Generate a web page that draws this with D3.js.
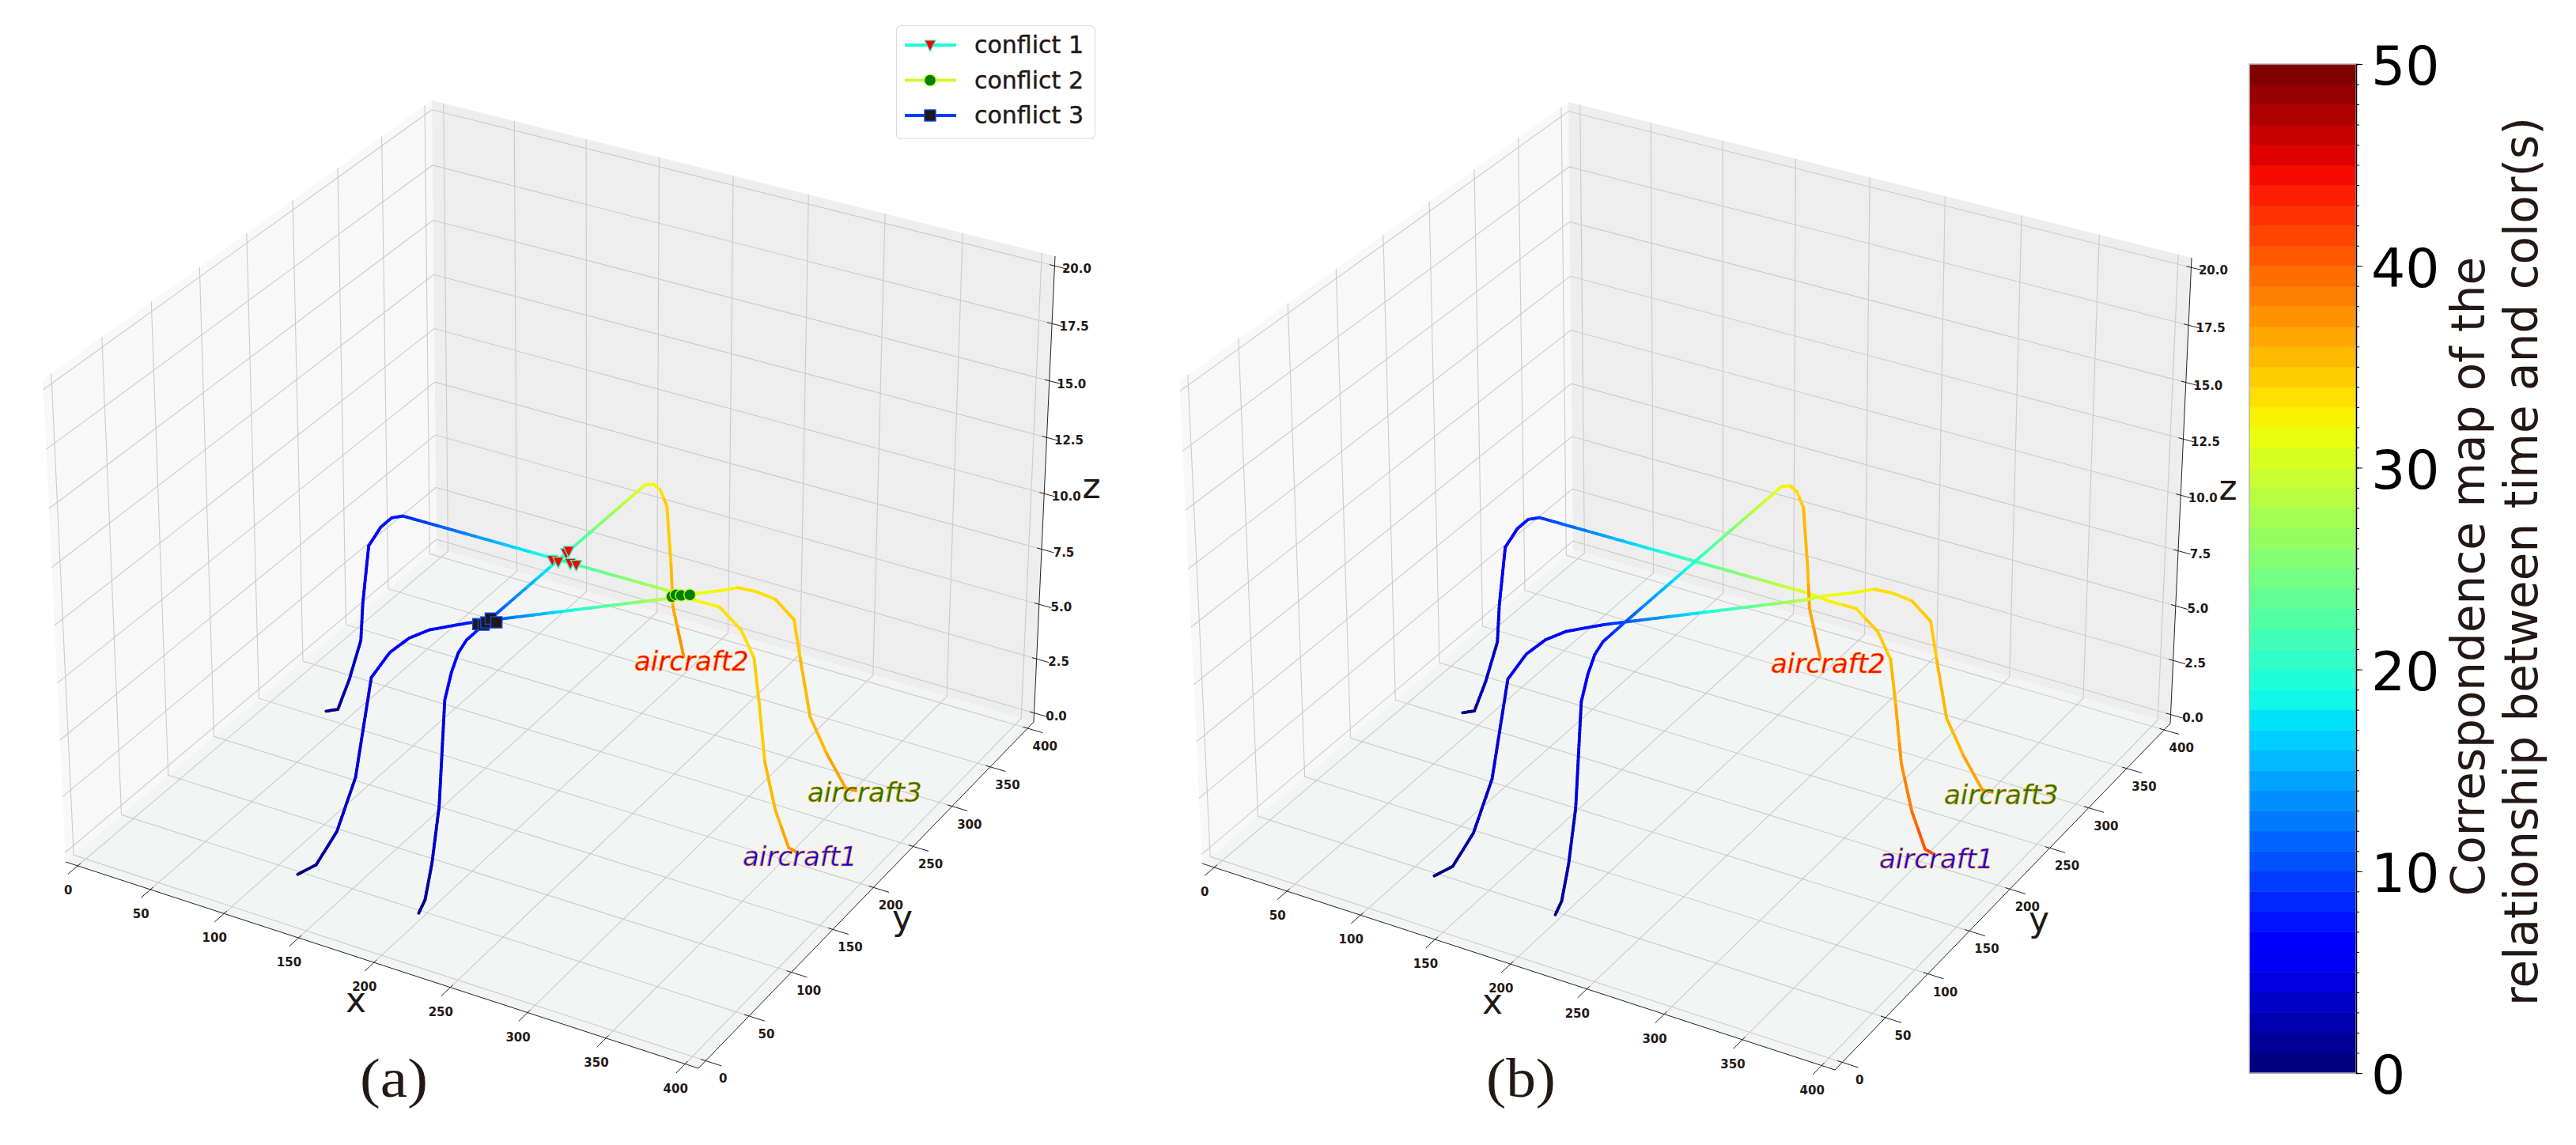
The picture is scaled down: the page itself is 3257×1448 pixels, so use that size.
<!DOCTYPE html>
<html>
<head>
<meta charset="utf-8">
<script src="https://cdn.jsdelivr.net/npm/d3@7/dist/d3.min.js"></script>
<style>
    body { margin: 0; background: #fff; }
    text { font-family: "DejaVu Sans", sans-serif; }
</style>
</head>
<body>
<script>
// aircraft tracks, x / y / z at each knot
const track1X = [40, 49, 53, 58, 58, 56, 59, 63, 69, 250, 265, 280, 294, 301, 307, 317, 334, 352, 358];
const track1Y = [199, 198, 205, 211, 214, 225, 234, 240, 243, 245, 243, 248, 249, 252, 248, 237, 219, 202, 202];
const track1Z = [0, 0.3, 1.5, 3.2, 4.8, 7, 7.6, 7.9, 8, 8, 8, 7.8, 7, 5.8, 4, 2, 0.8, 0.1, 0];

const track2X = [201, 203, 205, 203, 170, 168, 168, 170, 175, 175, 179, 182, 186, 194, 195, 195];
const track2Y = [39, 43, 48, 60, 122, 133, 141, 147, 161, 348, 351, 354, 355, 346, 347, 361];
const track2Z = [0, 0.5, 2, 4, 5.8, 6.6, 7.2, 7.6, 8, 8, 8, 7.7, 7, 4.8, 2.8, 0];

const track3X = [120, 129, 136, 133, 115, 123, 135, 147, 166, 252, 260, 273, 281, 290, 299, 310, 315, 328, 340, 353, 356];
const track3Y = [39, 45, 57, 83, 131, 139, 141, 144, 155, 237, 247, 259, 268, 274, 281, 284, 283, 272, 271, 271, 278];
const track3Z = [0, 0.4, 1.6, 3, 5.4, 6.4, 7.2, 7.7, 8, 8, 8, 8, 8, 7.8, 7.4, 6.6, 5, 3, 1.6, 0.3, 0];

// time (s) at each knot, panel (a) then panel (b)
const track1TimeA = [0, 1, 3, 4, 5, 6, 7, 7.5, 8, 29, 31.5, 33, 33.5, 34, 34.5, 35, 35.5, 36.5, 37.5];
const track2TimeA = [0, 1, 3, 4, 5, 6, 6.5, 7, 9, 31.5, 32, 33, 34.5, 35, 36, 38];
const track3TimeA = [0, 1, 3, 4, 5, 5.5, 6, 6.5, 7.5, 29, 31, 32, 33, 33.5, 34, 34.5, 35, 35.5, 36, 37, 37.5];

const track1TimeB = [0, 1, 3, 4, 5, 6, 7, 8, 9, 31, 32.5, 33.5, 34.5, 35, 36, 37.5, 39, 41, 42];
const track2TimeB = [0, 1, 3, 4, 5, 6, 7, 7.5, 10, 32, 33, 33.5, 35, 35.5, 36.5, 37.5];
const track3TimeB = [0, 1, 3, 4, 5, 5.5, 6, 6.5, 8, 29, 31, 32, 33, 33.5, 34, 34.5, 35, 35.5, 36, 37, 37.5];

// conflict markers, panel (a) only
const conflict1X = [172, 176, 175, 175, 183, 187];
const conflict1Y = [242, 242, 253, 256, 244, 244];
const conflict2X = [253, 254, 257, 261];
const conflict2Y = [240, 243, 244, 247];
const conflict3X = [172, 175, 175, 175, 180];
const conflict3Y = [157, 158, 161, 166, 164];
const conflictZ = 8;

const conflictNames = ["conflict 1", "conflict 2", "conflict 3"];
const aircraftNames = ["aircraft1", "aircraft2", "aircraft3"];

const xTicks = [0, 50, 100, 150, 200, 250, 300, 350, 400];
const yTicks = [0, 50, 100, 150, 200, 250, 300, 350, 400];
const zTicks = [0, 2.5, 5, 7.5, 10, 12.5, 15, 17.5, 20];
const colorTicks = [0, 10, 20, 30, 40, 50];

const width = 3257;
const height = 1448;
const textColor = "#231815";

const svg = d3.select("body").append("svg")
    .attr("width", width)
    .attr("height", height)
    .style("display", "block");

// matplotlib style limits: 1/48 margin on each side
const xNorm = d3.scaleLinear().domain([-8.33, 408.33]).range([0, 1]);
const yNorm = d3.scaleLinear().domain([-8.33, 408.33]).range([0, 1]);
const zNorm = d3.scaleLinear().domain([-0.417, 20.417]).range([0, 1]);
const xMin = xNorm.domain()[0], xMax = xNorm.domain()[1];
const yMin = yNorm.domain()[0], yMax = yNorm.domain()[1];
const zMin = zNorm.domain()[0], zMax = zNorm.domain()[1];

// unit square -> screen quad
const quadMap = (p) => {
    const [a, b, c, d] = p;
    const dx1 = b[0] - c[0], dx2 = d[0] - c[0], sx = a[0] - b[0] + c[0] - d[0];
    const dy1 = b[1] - c[1], dy2 = d[1] - c[1], sy = a[1] - b[1] + c[1] - d[1];
    const det = dx1 * dy2 - dx2 * dy1;
    const g = (sx * dy2 - dx2 * sy) / det;
    const h = (dx1 * sy - sx * dy1) / det;
    return (u, v) => {
        const w = g * u + h * v + 1;
        return [
            ((b[0] - a[0] + g * b[0]) * u + (d[0] - a[0] + h * d[0]) * v + a[0]) / w,
            ((b[1] - a[1] + g * b[1]) * u + (d[1] - a[1] + h * d[1]) * v + a[1]) / w
        ];
    };
};

// box corners on screen: floor and top of the 3d axes
const floorMap = quadMap([[83, 1090], [883, 1351], [1307, 913], [552, 693]]);
const topMap = quadMap([[54, 480], [891, 725], [1334, 324], [546, 127]]);

const project = (x, y, z) => {
    const u = xNorm(x), v = yNorm(y), n = zNorm(z);
    const t = n / (n + 1.04 * (1 - n));
    const a = floorMap(u, v), b = topMap(u, v);
    return [a[0] + (b[0] - a[0]) * t, a[1] + (b[1] - a[1]) * t];
};

// matplotlib jet
const jetR = d3.scaleLinear().domain([0, 0.35, 0.66, 0.89, 1]).range([0, 0, 1, 1, 0.5]);
const jetG = d3.scaleLinear().domain([0, 0.125, 0.375, 0.64, 0.91, 1]).range([0, 0, 1, 1, 0, 0]);
const jetB = d3.scaleLinear().domain([0, 0.11, 0.34, 0.65, 1]).range([0.5, 1, 1, 0, 0]);
const jet = (v) => "rgb(" + Math.round(255 * jetR(v)) + "," + Math.round(255 * jetG(v)) + "," + Math.round(255 * jetB(v)) + ")";
const timeColor = (t) => jet(Math.min(49, Math.floor(t)) / 49);

const line = d3.line();

const trianglePath = "M-7,-6L7,-6L0,8Z";
const circlePath = d3.symbol().type(d3.symbolCircle).size(170)();
const squarePath = d3.symbol().type(d3.symbolSquare).size(200)();

const drawPanel = (g, times, labelShift) => {
    const pane = (corners, fill) => g.append("path")
        .attr("d", line(corners.map((c) => project(c[0], c[1], c[2]))) + "Z")
        .attr("fill", fill);

    pane([[xMin, yMin, zMin], [xMin, yMax, zMin], [xMin, yMax, zMax], [xMin, yMin, zMax]], "#f8f8f8");
    pane([[xMin, yMax, zMin], [xMax, yMax, zMin], [xMax, yMax, zMax], [xMin, yMax, zMax]], "#eeeeee");
    pane([[xMin, yMin, zMin], [xMax, yMin, zMin], [xMax, yMax, zMin], [xMin, yMax, zMin]], "#f3f5f4");

    const grid = g.append("g").attr("fill", "none").attr("stroke", "#cbcbcb").attr("stroke-width", 1.1);
    const gridLine = (pts) => grid.append("path").attr("d", line(pts.map((c) => project(c[0], c[1], c[2]))));

    xTicks.forEach((x) => gridLine([[x, yMin, zMin], [x, yMax, zMin], [x, yMax, zMax]]));
    yTicks.forEach((y) => gridLine([[xMax, y, zMin], [xMin, y, zMin], [xMin, y, zMax]]));
    zTicks.forEach((z) => gridLine([[xMin, yMin, z], [xMin, yMax, z], [xMax, yMax, z]]));

    // axis edges and ticks
    const axis = g.append("g").attr("fill", "none").attr("stroke", "#222").attr("stroke-width", 1);
    const axisLine = (pts) => axis.append("path").attr("d", line(pts.map((c) => project(c[0], c[1], c[2]))));
    axisLine([[xMin, yMin, zMin], [xMax, yMin, zMin], [xMax, yMax, zMin], [xMax, yMax, zMax]]);
    xTicks.forEach((x) => axisLine([[x, yMin - 10, zMin], [x, yMin + 3, zMin]]));
    yTicks.forEach((y) => axisLine([[xMax + 10, y, zMin], [xMax - 3, y, zMin]]));
    zTicks.forEach((z) => axisLine([[xMax + 8, yMax, z], [xMax - 3, yMax, z]]));

    const tickText = g.append("g")
        .attr("fill", textColor)
        .attr("font-size", 15)
        .attr("font-weight", 600)
        .attr("text-anchor", "middle");

    xTicks.forEach((x) => {
        const p = project(x, yMin, zMin);
        tickText.append("text").attr("x", p[0] - 12).attr("y", p[1] + 36).text(x);
    });
    yTicks.forEach((y) => {
        const p = project(xMax, y, zMin);
        tickText.append("text").attr("x", p[0] + 22).attr("y", p[1] + 28).text(y);
    });
    zTicks.forEach((z) => {
        const p = project(xMax, yMax, z);
        tickText.append("text").attr("x", p[0] + 28).attr("y", p[1] + 9).text(d3.format(".1f")(z));
    });

    // axis names
    const axisName = (s, x, y) => g.append("text")
        .attr("x", x).attr("y", y)
        .attr("text-anchor", "middle")
        .attr("font-size", 44)
        .attr("fill", textColor)
        .text(s);
    axisName("x", 450, 1280);
    axisName("y", 1141, 1176);
    axisName("z", 1380, 630);

    // tracks, one short piece per colour step
    const tracks = [
        [track1X, track1Y, track1Z, times[0]],
        [track2X, track2Y, track2Z, times[1]],
        [track3X, track3Y, track3Z, times[2]]
    ];
    tracks.forEach((tr) => {
        const [xs, ys, zs, ts] = tr;
        const tg = g.append("g").attr("fill", "none").attr("stroke-width", 3.8).attr("stroke-linecap", "round");
        xs.slice(1).forEach((x1, i) => {
            const a = project(xs[i], ys[i], zs[i]);
            const b = project(x1, ys[i + 1], zs[i + 1]);
            const n = Math.max(1, Math.ceil(Math.hypot(b[0] - a[0], b[1] - a[1]) / 5));
            const along = (f) => [a[0] + (b[0] - a[0]) * f, a[1] + (b[1] - a[1]) * f];
            d3.range(n).forEach((k) => {
                tg.append("path")
                    .attr("d", line([along(k / n), along((k + 1) / n)]))
                    .attr("stroke", timeColor(ts[i] + (ts[i + 1] - ts[i]) * (k + 0.5) / n));
            });
        });
    });

    // labels at the track ends
    const names = [
        [939, 1095, "#0000ff", "#ff8c00"],
        [802, 848, "#ff0000", "#ff8c00"],
        [1021, 1014, "#007f00", "#ff8c00"]
    ];
    aircraftNames.forEach((s, i) => {
        g.append("text")
            .attr("x", names[i][0] + labelShift[0])
            .attr("y", names[i][1] + labelShift[1])
            .attr("font-size", 34)
            .attr("font-style", "italic")
            .attr("fill", names[i][2])
            .attr("stroke", names[i][3])
            .attr("stroke-width", 0.7)
            .text(s);
    });
};

const drawMarkers = (g) => {
    const sets = [
        [conflict1X, conflict1Y, trianglePath, "#ff0000", "#2cffc8"],
        [conflict2X, conflict2Y, circlePath, "#007f00", "#c4ff33"],
        [conflict3X, conflict3Y, squarePath, textColor, "#0a4cff"]
    ];
    sets.forEach((s) => {
        s[0].forEach((x, i) => {
            const p = project(x, s[1][i], conflictZ);
            g.append("path")
                .attr("d", s[2])
                .attr("transform", "translate(" + p[0] + "," + p[1] + ")")
                .attr("fill", s[3])
                .attr("stroke", s[4])
                .attr("stroke-width", 1.3);
        });
    });
};

const panelA = svg.append("g");
const panelB = svg.append("g").attr("transform", "translate(1437,2)");

drawPanel(panelA, [track1TimeA, track2TimeA, track3TimeA], [0, 0]);
drawMarkers(panelA);
drawPanel(panelB, [track1TimeB, track2TimeB, track3TimeB], [0, 1]);

// panel captions
const caption = (s, x, y, w) => svg.append("text")
    .attr("x", x).attr("y", y)
    .attr("text-anchor", "middle")
    .attr("font-size", 70)
    .attr("textLength", w)
    .attr("lengthAdjust", "spacingAndGlyphs")
    .style("font-family", "'Liberation Serif', serif")
    .attr("fill", textColor)
    .text(s);
caption("(a)", 498, 1387, 86);
caption("(b)", 1923, 1387, 88);

// legend
const legend = svg.append("g");
legend.append("rect")
    .attr("x", 1133.5).attr("y", 32.5)
    .attr("width", 251).attr("height", 143)
    .attr("rx", 6)
    .attr("fill", "#fff")
    .attr("stroke", "#dcdcdc")
    .attr("stroke-width", 1.2);

const legendY = d3.scalePoint().domain(conflictNames).range([57, 146]);
const legendLook = [
    [timeColor(19), trianglePath, "#ff0000", "#2cffc8"],
    [timeColor(29), circlePath, "#007f00", "#c4ff33"],
    [timeColor(9), squarePath, textColor, "#0a4cff"]
];
conflictNames.forEach((name, i) => {
    const y = legendY(name);
    legend.append("line")
        .attr("x1", 1144).attr("x2", 1209)
        .attr("y1", y).attr("y2", y)
        .attr("stroke", legendLook[i][0])
        .attr("stroke-width", 4);
    legend.append("path")
        .attr("d", legendLook[i][1])
        .attr("transform", "translate(1176," + y + ")")
        .attr("fill", legendLook[i][2])
        .attr("stroke", legendLook[i][3])
        .attr("stroke-width", 1.2);
    legend.append("text")
        .attr("x", 1232).attr("y", y + 10)
        .attr("font-size", 30)
        .attr("fill", textColor)
        .attr("stroke", textColor)
        .attr("stroke-width", 0.4)
        .text(name);
});

// colour bar, one band per second
const barX = 2844, barW = 135, barTop = 81, barBottom = 1357;
const colorScale = d3.scaleLinear().domain([0, 50]).range([barBottom, barTop]);
const colorBar = svg.append("g");

colorBar.selectAll("rect")
    .data(d3.range(50))
    .enter()
    .append("rect")
    .attr("x", barX)
    .attr("width", barW)
    .attr("y", (d) => colorScale(d + 1))
    .attr("height", (d) => colorScale(d) - colorScale(d + 1) + 0.5)
    .attr("fill", (d) => jet(d / 49));

colorBar.append("rect")
    .attr("x", barX).attr("y", barTop)
    .attr("width", barW).attr("height", barBottom - barTop)
    .attr("fill", "none")
    .attr("stroke", "#b5b5b5")
    .attr("stroke-width", 1.5);

const minorAxis = d3.axisRight(colorScale).tickValues(d3.range(51)).tickSize(4).tickFormat("");
svg.append("g")
    .attr("transform", "translate(" + (barX + barW) + ",0)")
    .call(minorAxis)
    .call((g) => g.select(".domain").attr("stroke-width", 1.5));

const majorAxis = d3.axisRight(colorScale).tickValues(colorTicks).tickSize(8).tickPadding(11);
svg.append("g")
    .attr("transform", "translate(" + (barX + barW) + ",0)")
    .call(majorAxis)
    .call((g) => g.select(".domain").remove())
    .call((g) => g.selectAll("text")
        .attr("dy", "0.38em")
        .attr("font-size", 68)
        .style("font-family", "'DejaVu Sans', sans-serif"));

const barLabel = (s, x, y) => svg.append("text")
    .attr("transform", "translate(" + x + "," + y + ") rotate(-90)")
    .attr("text-anchor", "middle")
    .attr("font-size", 58)
    .attr("fill", textColor)
    .text(s);
barLabel("Correspondence map of the", 3141, 729);
barLabel("relationship between time and color(s)", 3208, 710);
</script>
</body>
</html>
